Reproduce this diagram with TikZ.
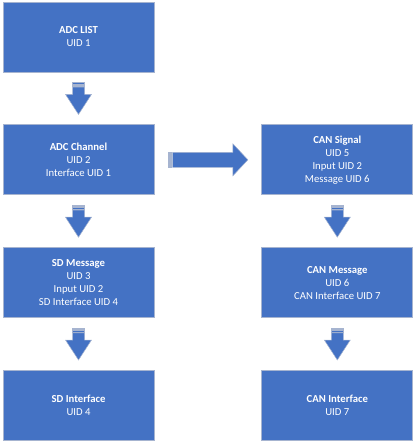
\documentclass[tikz,border=0pt]{standalone}
\usepackage{fontspec}
\setmainfont{Carlito}
\usetikzlibrary{positioning,calc}
\definecolor{boxBlue}{HTML}{4472C4}
\definecolor{boxLine}{HTML}{A6B4D0}

\begin{document}
\begin{tikzpicture}[x=1pt,y=1pt,font=\fontsize{10.7}{13}\selectfont,
  bx/.style={draw=boxLine,fill=boxBlue,line width=0.8pt,text=white,minimum width=151pt,minimum height=70pt,align=center,inner sep=0pt},
  blk/.style={fill=boxBlue,draw=boxLine,line width=0.5pt},
  dn/.pic={
    \path[blk] (-6,16) rectangle (6,14.6);
    \path[blk] (-6,13.6) rectangle (6,12.2);
    \path[blk] (-6,11.2) -- (-6,4) -- (-13,4) -- (0,-16) -- (13,4) -- (6,4) -- (6,11.2) -- cycle;},
  rt/.pic={
    \path[blk] (-40,-7.5) rectangle (-38.6,7.5);
    \path[blk] (-37.6,-7.5) rectangle (-36.2,7.5);
    \path[blk] (-35.2,-7.5) -- (25,-7.5) -- (25,-16) -- (40,0) -- (25,16) -- (25,7.5) -- (-35.2,7.5) -- cycle;}]
  \useasboundingbox (0,0) rectangle (416,-441);
  \node[bx] (adc) at (78.5,-37) {\textbf{ADC LIST}\\UID 1};
  \node[bx,below=52pt of adc] (adcch) {\textbf{ADC Channel}\\UID 2\\Interface UID 1};
  \node[bx,below=52pt of adcch] (sdmsg) {\textbf{SD Message}\\UID 3\\Input UID 2\\SD Interface UID 4};
  \node[bx,below=52pt of sdmsg] (sdif) {\textbf{SD Interface}\\UID 4};
  \node[bx,right=107pt of adcch] (cansig) {\textbf{CAN Signal}\\UID 5\\Input UID 2\\Message UID 6};
  \node[bx,below=52pt of cansig] (canmsg) {\textbf{CAN Message}\\UID 6\\CAN Interface UID 7};
  \node[bx,below=52pt of canmsg] (canif) {\textbf{CAN Interface}\\UID 7};
  \path ($(adc.south)!0.5!(adcch.north)$) pic {dn};
  \path ($(adcch.south)!0.5!(sdmsg.north)$) pic {dn};
  \path ($(sdmsg.south)!0.5!(sdif.north)$) pic {dn};
  \path ($(cansig.south)!0.5!(canmsg.north)$) pic {dn};
  \path ($(canmsg.south)!0.5!(canif.north)$) pic {dn};
  \path ($(adcch.east)!0.5!(cansig.west)$) pic {rt};
\end{tikzpicture}
\end{document}
